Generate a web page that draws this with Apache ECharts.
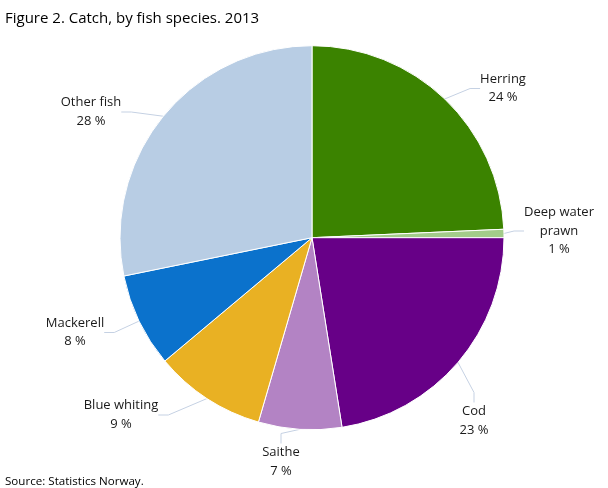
<!DOCTYPE html>
<html><head><meta charset="utf-8">
<script src="https://cdn.jsdelivr.net/npm/echarts@6/dist/echarts.min.js"></script>
<style>html,body{margin:0;padding:0;background:#fff}#c{width:608px;height:488px}</style>
</head><body><div id="c"></div>
<script>
const categories = ['Herring', 'Deep water prawn', 'Cod', 'Saithe', 'Blue whiting', 'Mackerell', 'Other fish'];
const labelNames = ['Herring', 'Deep water\nprawn', 'Cod', 'Saithe', 'Blue whiting', 'Mackerell', 'Other fish'];
const values = [24.3, 0.7, 22.5, 7.0, 9.4, 7.9, 28.2];
const colors = ['#3b8300', '#a3cc8a', '#670087', '#b383c4', '#e9b123', '#0b72cc', '#b8cde4'];

const chart = echarts.init(document.getElementById('c'), null, {renderer: 'canvas'});
// label anchor placement (centre of each label block)
const labelSpots = [[503, 88.5], [559, 231], [474, 421], [281, 462], [121, 415], [75, 332.5], [91, 112]];
chart.setOption({
  animation: false,
  title: [
    {text: 'Figure 2. Catch, by fish species. 2013', left: 0, top: 6,
     textStyle: {fontFamily: 'Open Sans', fontSize: 15, fontWeight: 'normal', color: '#000'}},
    {text: 'Source: Statistics Norway.', left: 0, top: 471,
     textStyle: {fontFamily: 'Open Sans', fontSize: 11.6, fontWeight: 'normal', color: '#000'}}
  ],
  series: [{
    type: 'pie',
    center: [312, 237.7],
    radius: [0, 192],
    startAngle: 90,
    clockwise: true,
    avoidLabelOverlap: false,
    itemStyle: {borderColor: '#fff', borderWidth: 1},
    label: {
      show: true,
      formatter: p => labelNames[p.dataIndex] + '\n' + Math.round(p.percent) + ' %',
      fontFamily: 'Open Sans', fontSize: 13, color: '#1a1a1a', lineHeight: 18.5, align: 'center'
    },
    labelLine: {show: true, length: 14, length2: 10, lineStyle: {color: '#c5d1e3', width: 1}},
    labelLayout: params => {
      const s = labelSpots[params.dataIndex];
      return {x: s[0], y: s[1], align: 'center', verticalAlign: 'middle'};
    },
    data: categories.map((c, i) => ({name: c, value: values[i], itemStyle: {color: colors[i]}}))
  }]
});
</script></body></html>
